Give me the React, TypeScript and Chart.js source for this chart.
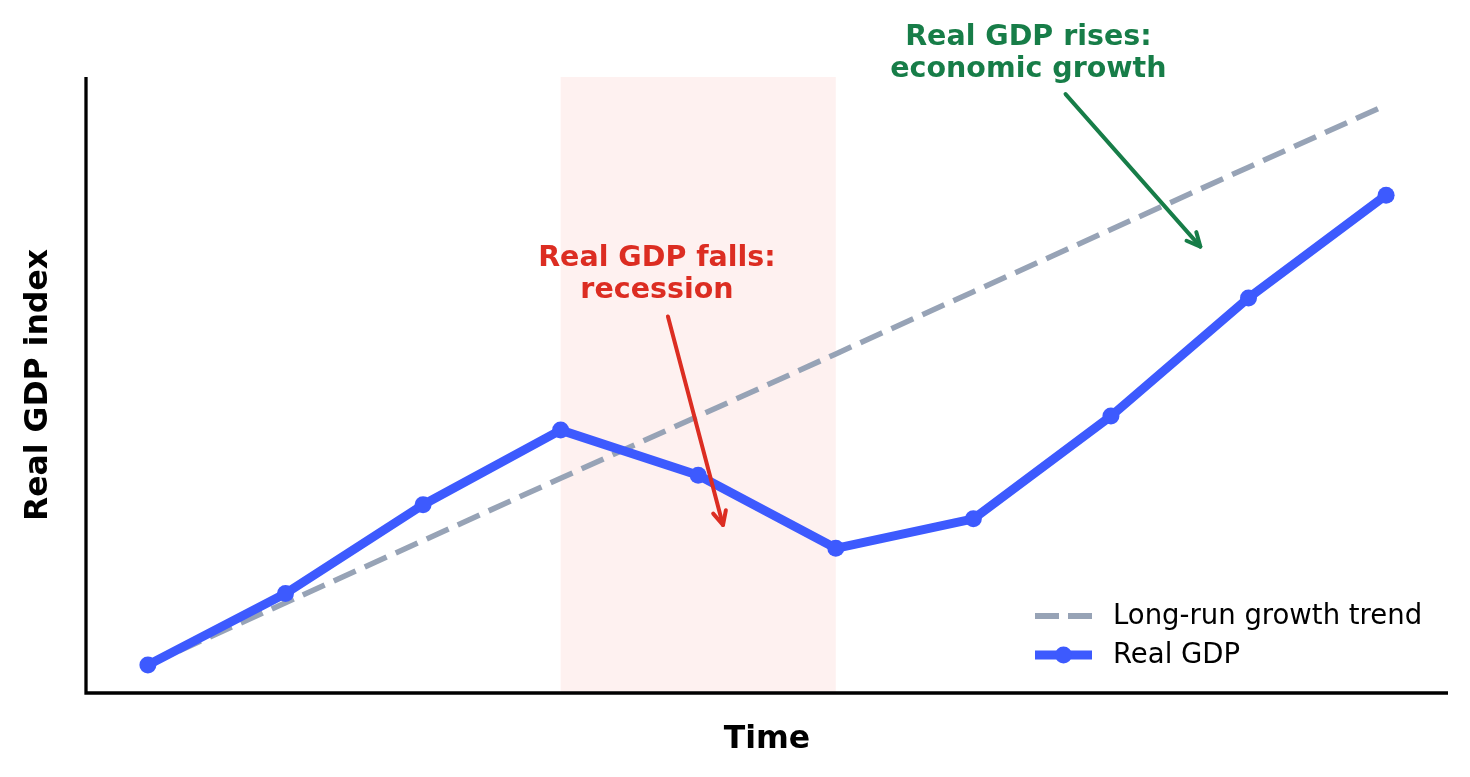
import { useEffect, useRef } from "react"
import { Chart, registerables } from "chart.js"

Chart.register(...registerables)

// time periods (x positions) and the two series
const periods = [0, 1, 2, 3, 4, 5, 6, 7, 8, 9]
const realGdp = [100, 104.6, 110.3, 115.1, 112.2, 107.5, 109.4, 116.0, 123.6, 130.2]
const growthTrend = [100, 104, 108, 112, 116, 120, 124, 128, 132, 136]
const recessionSpan = [3, 5]
const seriesNames = ["Long-run growth trend", "Real GDP"]

const FONT = "'DejaVu Sans', 'Liberation Sans', sans-serif"
const BLUE = "#3d5afe"
const GRAY = "#97a3b6"
const RED = "#dc2d22"
const GREEN = "#177d48"

interface Note {
  lines: string[]
  color: string
  textAt: [number, number]
  from: [number, number]
  to: [number, number]
}

const notes: Note[] = [
  {
    lines: ["Real GDP falls:", "recession"],
    color: RED,
    textAt: [3.7, 125.64],
    from: [3.78, 122.4],
    to: [4.18, 109.0],
  },
  {
    lines: ["Real GDP rises:", "economic growth"],
    color: GREEN,
    textAt: [6.4, 139.85],
    from: [6.67, 136.7],
    to: [7.65, 126.9],
  },
]

const overlayPlugin = {
  id: "overlay",
  beforeDatasetsDraw(chart: any) {
    const { ctx, chartArea, scales } = chart
    const x0 = scales.x.getPixelForValue(recessionSpan[0])
    const x1 = scales.x.getPixelForValue(recessionSpan[1])
    ctx.save()
    ctx.fillStyle = "#fef1f0"
    ctx.fillRect(x0, chartArea.top, x1 - x0, chartArea.bottom - chartArea.top)
    ctx.restore()
  },
  afterDraw(chart: any) {
    const { ctx, chartArea, scales } = chart
    const { left, right, top, bottom } = chartArea
    ctx.save()

    // spines
    ctx.strokeStyle = "#000"
    ctx.lineWidth = 3.3
    ctx.lineCap = "butt"
    ctx.beginPath()
    ctx.moveTo(left, top)
    ctx.lineTo(left, bottom)
    ctx.lineTo(right, bottom)
    ctx.stroke()

    // axis titles
    ctx.fillStyle = "#000"
    ctx.font = `bold 31.5px ${FONT}`
    ctx.textAlign = "center"
    ctx.textBaseline = "alphabetic"
    ctx.fillText("Time", (left + right) / 2, bottom + 55)
    ctx.save()
    ctx.translate(47, (top + bottom) / 2)
    ctx.rotate(-Math.PI / 2)
    ctx.fillText("Real GDP index", 0, 0)
    ctx.restore()

    // annotations
    notes.forEach((n) => {
      const tx = scales.x.getPixelForValue(n.textAt[0])
      const ty = scales.y.getPixelForValue(n.textAt[1])
      ctx.fillStyle = n.color
      ctx.font = `bold 28.5px ${FONT}`
      ctx.textAlign = "center"
      n.lines.forEach((line, i) => ctx.fillText(line, tx, ty + i * 32))

      const ax = scales.x.getPixelForValue(n.from[0])
      const ay = scales.y.getPixelForValue(n.from[1])
      const bx = scales.x.getPixelForValue(n.to[0])
      const by = scales.y.getPixelForValue(n.to[1])
      const ang = Math.atan2(by - ay, bx - ax)
      ctx.strokeStyle = n.color
      ctx.lineWidth = 4
      ctx.lineCap = "round"
      ctx.lineJoin = "round"
      ctx.beginPath()
      ctx.moveTo(ax, ay)
      ctx.lineTo(bx, by)
      ctx.stroke()
      const head = 15
      ctx.beginPath()
      ctx.moveTo(bx - head * Math.cos(ang - 0.45), by - head * Math.sin(ang - 0.45))
      ctx.lineTo(bx, by)
      ctx.lineTo(bx - head * Math.cos(ang + 0.45), by - head * Math.sin(ang + 0.45))
      ctx.stroke()
    })

    // legend
    const hx0 = right - 413
    const hx1 = right - 356
    const textX = right - 335
    const row1 = bottom - 77
    const row2 = bottom - 38
    ctx.lineCap = "butt"
    ctx.strokeStyle = GRAY
    ctx.lineWidth = 6
    ctx.setLineDash([24, 9])
    ctx.beginPath()
    ctx.moveTo(hx0, row1)
    ctx.lineTo(hx1, row1)
    ctx.stroke()
    ctx.setLineDash([])
    ctx.strokeStyle = BLUE
    ctx.lineWidth = 9
    ctx.beginPath()
    ctx.moveTo(hx0, row2)
    ctx.lineTo(hx1, row2)
    ctx.stroke()
    ctx.fillStyle = BLUE
    ctx.beginPath()
    ctx.arc((hx0 + hx1) / 2, row2, 8.5, 0, Math.PI * 2)
    ctx.fill()
    ctx.fillStyle = "#000"
    ctx.font = `27.5px ${FONT}`
    ctx.textAlign = "left"
    ctx.textBaseline = "middle"
    ctx.fillText(seriesNames[0], textX, row1 + 1)
    ctx.fillText(seriesNames[1], textX, row2 + 1)

    ctx.restore()
  },
}

export default function App() {
  const canvasRef = useRef<HTMLCanvasElement>(null)
  const chartRef = useRef<Chart | null>(null)

  useEffect(() => {
    document.body.style.margin = "0"
    if (!canvasRef.current) return
    const ctx = canvasRef.current.getContext("2d")
    if (!ctx) return

    if (chartRef.current) {
      chartRef.current.destroy()
    }

    chartRef.current = new Chart(ctx, {
      type: "line",
      data: {
        datasets: [
          {
            label: seriesNames[1],
            data: periods.map((p, i) => ({ x: p, y: realGdp[i] })),
            borderColor: BLUE,
            backgroundColor: BLUE,
            borderWidth: 9,
            pointRadius: 8.5,
            pointBorderWidth: 0,
            pointBackgroundColor: BLUE,
            tension: 0,
            borderJoinStyle: "round",
            order: 1,
          },
          {
            label: seriesNames[0],
            data: periods.map((p, i) => ({ x: p, y: growthTrend[i] })),
            borderColor: GRAY,
            borderWidth: 5.5,
            borderDash: [24, 10],
            pointRadius: 0,
            tension: 0,
            order: 2,
          },
        ],
      },
      options: {
        animation: false,
        responsive: true,
        maintainAspectRatio: false,
        layout: {
          padding: { left: 86, right: 22, top: 77, bottom: 84 },
        },
        scales: {
          x: { type: "linear", min: -0.45, max: 9.45, display: false },
          y: { type: "linear", min: 98.2, max: 137.8, display: false },
        },
        plugins: {
          legend: { display: false },
          tooltip: { enabled: false },
        },
      },
      plugins: [overlayPlugin],
    })

    return () => {
      if (chartRef.current) {
        chartRef.current.destroy()
        chartRef.current = null
      }
    }
  }, [])

  return (
    <div style={{ width: 1470, height: 777, position: "relative" }}>
      <canvas ref={canvasRef}></canvas>
    </div>
  )
}
